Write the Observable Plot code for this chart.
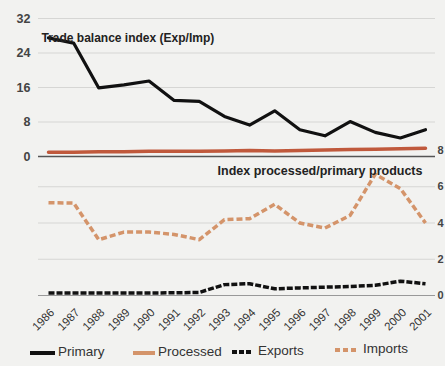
<!DOCTYPE html>
<html>
<head>
<meta charset="utf-8">
<script src="https://cdn.jsdelivr.net/npm/d3@7"></script>
<script src="https://cdn.jsdelivr.net/npm/@observablehq/plot@0.6"></script>
<style>
  html, body { margin: 0; padding: 0; background: #f2f2f0; overflow: hidden; }
  #wrap { position: relative; width: 445px; height: 366px; font-family: "Liberation Sans", Arial, sans-serif; }
  #wrap svg.plotsvg { position: absolute; left: 0; top: 0; background: transparent !important; }
  .leg { position: absolute; font-size: 13.5px; color: #333; white-space: nowrap; line-height: 16px; }
</style>
</head>
<body>
<div id="wrap"></div>
<script>
const years = [1986,1987,1988,1989,1990,1991,1992,1993,1994,1995,1996,1997,1998,1999,2000,2001];
const primary = [27.5,26.3,15.9,16.6,17.5,13.0,12.8,9.3,7.3,10.6,6.2,4.8,8.1,5.6,4.3,6.2];
const processed = [1.0,1.0,1.1,1.1,1.2,1.2,1.2,1.3,1.4,1.3,1.4,1.5,1.6,1.7,1.8,1.9];
const exportsIdx = [0.14,0.14,0.14,0.14,0.14,0.15,0.17,0.6,0.65,0.37,0.42,0.46,0.5,0.56,0.79,0.65];
const importsIdx = [5.12,5.1,3.08,3.5,3.5,3.37,3.08,4.18,4.24,5.03,4.0,3.72,4.42,6.69,5.9,4.0];
const topTicks = [0,8,16,24,32];
const bottomTicks = [0,2,4,6,8];
const topTitle = "Trade balance index (Exp/Imp)";
const bottomTitle = "Index processed/primary products";
const legendItems = [
  {label: "Primary", color: "#111", dash: null},
  {label: "Processed", color: "#d4946a", dash: null},
  {label: "Exports", color: "#111", dash: "5,2"},
  {label: "Imports", color: "#d4946a", dash: "5,3"}
];

const wrap = document.getElementById("wrap");

const topPlot = Plot.plot({
  width: 445, height: 170,
  marginLeft: 38, marginRight: 10, marginTop: 18, marginBottom: 14,
  style: {background: "transparent", fontFamily: "Liberation Sans, Arial, sans-serif"},
  x: {domain: [1986, 2001], inset: 10, axis: null},
  y: {domain: [0, 32], axis: null},
  marks: [
    Plot.gridY(topTicks.filter(d => d > 0), {stroke: "#d6d6d4", strokeOpacity: 1}),
    Plot.axisY(topTicks, {tickSize: 0, tickPadding: 8, fontSize: 12.5, fill: "#444", fontWeight: "bold", label: null}),
    Plot.ruleY([0], {stroke: "#555", strokeWidth: 1.5}),
    Plot.line(years, {x: years, y: processed, stroke: "#c0593c", strokeWidth: 3.5}),
    Plot.line(years, {x: years, y: primary, stroke: "#111", strokeWidth: 3.2}),
    Plot.text([topTitle], {frameAnchor: "top-left", textAnchor: "start", dx: 3, dy: 15, fontSize: 12, fontWeight: "bold", fill: "#222"})
  ]
});
topPlot.classList.add("plotsvg");

const bottomPlot = Plot.plot({
  width: 445, height: 340,
  marginLeft: 38, marginRight: 10, marginTop: 150, marginBottom: 45,
  style: {background: "transparent", fontFamily: "Liberation Sans, Arial, sans-serif"},
  x: {domain: [1986, 2001], inset: 10, axis: null},
  y: {domain: [0, 8], axis: null},
  marks: [
    Plot.gridY([2, 4, 6], {stroke: "#d6d6d4", strokeOpacity: 1}),
    Plot.axisY(bottomTicks, {anchor: "right", tickSize: 0, tickPadding: 2, fontSize: 11, fill: "#444", fontWeight: "bold", label: null}),
    Plot.text(years, {x: years, frameAnchor: "bottom", dy: 15, dx: 4, rotate: -45, textAnchor: "end", lineAnchor: "middle", text: d => String(d), fontSize: 11.5, fill: "#333"}),
    Plot.ruleY([0], {stroke: "#999", strokeWidth: 1.2}),
    Plot.line(years, {x: years, y: importsIdx, stroke: "#d4946a", strokeWidth: 3.5, strokeDasharray: "6,3", strokeLinecap: "butt"}),
    Plot.line(years, {x: years, y: exportsIdx, stroke: "#111", strokeWidth: 3.5, strokeDasharray: "6,2", strokeLinecap: "butt"}),
    Plot.text([bottomTitle], {frameAnchor: "top-right", textAnchor: "end", dx: -13, dy: 16, fontSize: 12.5, fontWeight: "bold", fill: "#222"})
  ]
});
bottomPlot.classList.add("plotsvg");

wrap.appendChild(bottomPlot);
wrap.appendChild(topPlot);

// legend
const legPos = [
  {sx: 30, sw: 25, tx: 58, y: 344},
  {sx: 133, sw: 22, tx: 158, y: 344},
  {sx: 232, sw: 20, tx: 258, y: 343},
  {sx: 335, sw: 23, tx: 363, y: 341}
];
legendItems.forEach((it, i) => {
  const p = legPos[i];
  const sw = document.createElementNS("http://www.w3.org/2000/svg", "svg");
  sw.setAttribute("width", p.sw); sw.setAttribute("height", 8);
  sw.style.position = "absolute"; sw.style.left = p.sx + "px"; sw.style.top = (p.y + 5) + "px";
  const ln = document.createElementNS("http://www.w3.org/2000/svg", "line");
  ln.setAttribute("x1", 0); ln.setAttribute("x2", p.sw); ln.setAttribute("y1", 4); ln.setAttribute("y2", 4);
  ln.setAttribute("stroke", it.color); ln.setAttribute("stroke-width", 4);
  if (it.dash) ln.setAttribute("stroke-dasharray", it.dash);
  sw.appendChild(ln);
  wrap.appendChild(sw);
  const t = document.createElement("div");
  t.className = "leg"; t.textContent = it.label;
  t.style.left = p.tx + "px"; t.style.top = p.y + "px";
  wrap.appendChild(t);
});
</script>
</body>
</html>
